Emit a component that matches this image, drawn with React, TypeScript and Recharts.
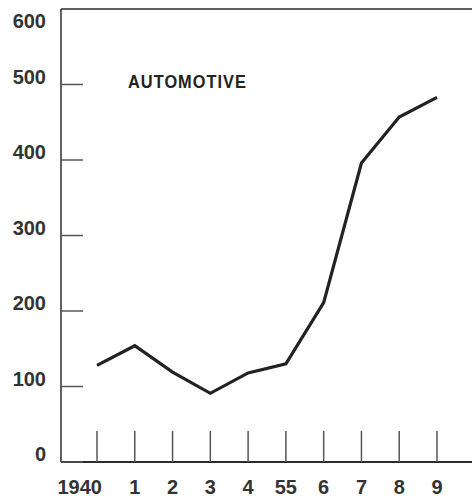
import { LineChart, Line, XAxis, YAxis, ReferenceLine } from 'recharts';

const years = ['1940', '1941', '1942', '1943', '1944', '1945', '1946', '1947', '1948', '1949'];
const yearLabels = ['1940', '1', '2', '3', '4', '55', '6', '7', '8', '9'];
const automotive = [128, 154, 119, 91, 118, 130, 211, 396, 457, 483];
const yTicks = [0, 100, 200, 300, 400, 500, 600];

const data = years.map((y, i) => ({ year: y, label: yearLabels[i], value: automotive[i] }));

const INK = '#2b2b2b';
const FONT = "'Liberation Sans', Arial, sans-serif";

function LeftTick(props: any) {
  const { x, y, payload } = props;
  // the top label sits under the frame line in the original
  const top = payload.value === 600;
  return (
    <g>
      {!top && <line x1={x} y1={y} x2={x + 22} y2={y} stroke="#555" strokeWidth={1.5} />}
      <text x={x - 15} y={top ? y + 19 : y - 1} textAnchor="end" fill="#333" fontSize={20} fontWeight="bold" fontFamily={FONT}>
        {payload.value}
      </text>
    </g>
  );
}

function RightTick(props: any) {
  const { x, y } = props;
  return <line x1={x - 19} y1={y} x2={x} y2={y} stroke="#555" strokeWidth={1.5} />;
}

function BottomTick(props: any) {
  const { x, y, index } = props;
  const first = index === 0;
  return (
    <g>
      <line x1={x} y1={y} x2={x} y2={y - 31} stroke="#555" strokeWidth={1.5} />
      <text
        x={first ? x + 5 : x}
        y={y + 32}
        textAnchor={first ? 'end' : 'middle'}
        fill="#333"
        fontSize={20}
        fontWeight="bold"
        fontFamily={FONT}
      >
        {yearLabels[index]}
      </text>
    </g>
  );
}

export default function App() {
  return (
    <div style={{ position: 'absolute', left: 0, top: 0, width: 472, height: 500, overflow: 'hidden', background: '#fff' }}>
      <LineChart width={472} height={500} data={data} margin={{ top: 9, right: 0, bottom: 0, left: 0 }}>
        <XAxis
          dataKey="year"
          type="category"
          interval={0}
          height={38}
          padding={{ left: 36, right: 35 }}
          tickLine={false}
          tickSize={0}
          tickMargin={0}
          axisLine={{ stroke: INK, strokeWidth: 2 }}
          tick={<BottomTick />}
        />
        <YAxis
          yAxisId="left"
          domain={[0, 600]}
          ticks={yTicks}
          width={61}
          tickLine={false}
          tickSize={0}
          tickMargin={0}
          axisLine={{ stroke: INK, strokeWidth: 1.5 }}
          tick={<LeftTick />}
        />
        <YAxis
          yAxisId="right"
          orientation="right"
          domain={[0, 600]}
          ticks={yTicks.slice(1, 6)}
          width={0}
          tickLine={false}
          tickSize={0}
          tickMargin={0}
          axisLine={false}
          tick={<RightTick />}
        />
        <ReferenceLine yAxisId="left" y={600} stroke={INK} strokeWidth={1.5} />
        <Line
          yAxisId="left"
          type="linear"
          dataKey="value"
          stroke="#222"
          strokeWidth={3.2}
          dot={false}
          isAnimationActive={false}
        />
      </LineChart>
      <div
        style={{
          position: 'absolute',
          left: 128,
          top: 72,
          fontFamily: FONT,
          fontWeight: 'bold',
          fontSize: 19,
          letterSpacing: 1.2,
          color: '#222',
          lineHeight: '20px',
          transform: 'scaleX(0.86)',
          transformOrigin: 'left center',
          whiteSpace: 'nowrap',
        }}
      >
        AUTOMOTIVE
      </div>
    </div>
  );
}
